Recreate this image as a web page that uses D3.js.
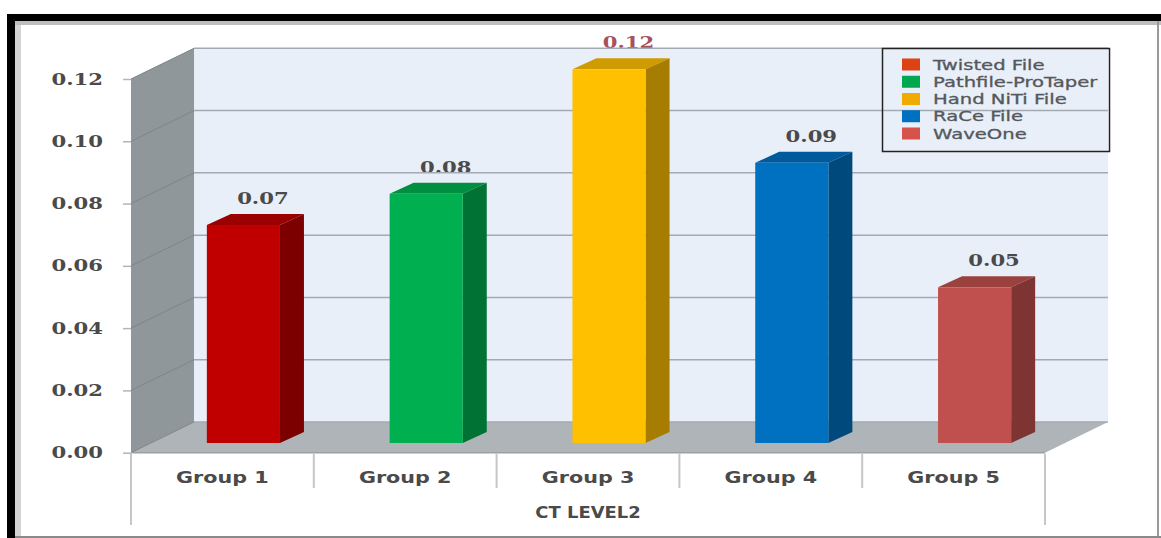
<!DOCTYPE html>
<html lang="en">
<head>
    <meta charset="UTF-8">
    <title>CT LEVEL2</title>
    <script src="https://d3js.org/d3.v7.min.js"></script>
    <style>
        html, body { margin: 0; padding: 0; background: #fff; overflow: hidden; }
        svg { display: block; }
    </style>
</head>
<body>
    <script>
        // values per group
        var categories = ['Group 1', 'Group 2', 'Group 3', 'Group 4', 'Group 5'];
        var values = [0.07, 0.08, 0.12, 0.09, 0.05];
        var yTicks = [0, 0.02, 0.04, 0.06, 0.08, 0.10, 0.12];
        var axisTitle = 'CT LEVEL2';

        // legend
        var seriesNames = ['Twisted File', 'Pathfile-ProTaper', 'Hand NiTi File', 'RaCe File', 'WaveOne'];
        var legendColors = ['#dc4212', '#00a650', '#f0ab00', '#0070c0', '#d8524c'];
        var barColors = ['#c00000', '#00b050', '#ffc000', '#0070c0', '#c0504d'];

        var w = 1161;
        var h = 538;

        // depth of the fake 3d box: back wall offset from the front plane
        var wallDx = 63;
        var wallDy = -30.7;
        // bars stand a bit inside the box
        var barShiftX = 21;
        var barShiftY = -9.7;
        var barDepthX = 24;
        var barDepthY = -11;

        var xScale = d3.scaleBand()
                       .domain(categories)
                       .range([131, 1045])
                       .paddingInner(0.6)
                       .paddingOuter(0.3);

        var yScale = d3.scaleLinear()
                       .domain([0, 0.12])
                       .range([452.7, 79]);

        var xLeft = xScale.range()[0];
        var xRight = xScale.range()[1];
        var yBase = yScale(0);
        var yTop = yScale(0.12);

        var svg = d3.select('body')
                    .append('svg')
                    .attr('width', w)
                    .attr('height', h);

        function poly(points) {
            return points.map(function(p) { return p.join(','); }).join(' ');
        }

        // text in this chart runs wide, so stretch it along the baseline
        function widen(selection, k) {
            selection.each(function() {
                d3.select(this)
                  .attr('textLength', this.getComputedTextLength() * k)
                  .attr('lengthAdjust', 'spacingAndGlyphs');
            });
        }

        // outer frame
        svg.append('rect').attr('x', 15).attr('y', 21).attr('width', 6).attr('height', h - 21).attr('fill', '#d4d4d4');
        svg.append('rect').attr('x', 15).attr('y', 21).attr('width', w - 15).attr('height', 4).attr('fill', '#bdbdbd');
        svg.append('rect').attr('x', 7).attr('y', 14).attr('width', 8).attr('height', h - 14).attr('fill', '#000');
        svg.append('rect').attr('x', 7).attr('y', 14).attr('width', w - 7).attr('height', 7).attr('fill', '#000');
        svg.append('rect').attr('x', 1157).attr('y', 21).attr('width', 2).attr('height', h - 21).attr('fill', '#9a9a9a');
        svg.append('rect').attr('x', 15).attr('y', 536).attr('width', w - 15).attr('height', 2).attr('fill', '#8a8a8a');

        // back wall
        svg.append('rect')
           .attr('x', xLeft + wallDx)
           .attr('y', yTop + wallDy)
           .attr('width', xRight - xLeft)
           .attr('height', yBase - yTop)
           .attr('fill', '#e9eff8');

        // side wall
        svg.append('polygon')
           .attr('points', poly([
               [xLeft, yTop],
               [xLeft + wallDx, yTop + wallDy],
               [xLeft + wallDx, yBase + wallDy],
               [xLeft, yBase]
           ]))
           .attr('fill', '#90979a');

        // floor
        svg.append('polygon')
           .attr('points', poly([
               [xLeft, yBase],
               [xLeft + wallDx, yBase + wallDy],
               [xRight + wallDx, yBase + wallDy],
               [xRight, yBase]
           ]))
           .attr('fill', '#aeb4b8');

        // value labels go under the gridlines
        svg.selectAll('.value-label')
           .data(values)
           .enter()
           .append('text')
           .attr('class', 'value-label')
           .attr('x', function(d, i) { return xScale(categories[i]) + xScale.bandwidth() / 2 + barShiftX + 19.5; })
           .attr('y', function(d) { return yScale(d) + barShiftY + barDepthY - 10; })
           .attr('text-anchor', 'middle')
           .attr('font-family', 'DejaVu Serif')
           .attr('font-weight', 'bold')
           .attr('font-size', 16)
           .attr('fill', function(d) { return d === 0.12 ? '#a8505c' : '#4a4a4a'; })
           .text(function(d) { return d.toFixed(2); })
           .call(widen, 1.32);

        // gridlines: across the back wall and down the side wall
        svg.selectAll('.grid-back')
           .data(yTicks)
           .enter()
           .append('line')
           .attr('class', 'grid-back')
           .attr('x1', xLeft + wallDx)
           .attr('x2', xRight + wallDx)
           .attr('y1', function(d) { return yScale(d) + wallDy; })
           .attr('y2', function(d) { return yScale(d) + wallDy; })
           .attr('stroke', '#a3aab2')
           .attr('stroke-width', 1.5);

        svg.selectAll('.grid-side')
           .data(yTicks)
           .enter()
           .append('line')
           .attr('class', 'grid-side')
           .attr('x1', xLeft)
           .attr('x2', xLeft + wallDx)
           .attr('y1', function(d) { return yScale(d); })
           .attr('y2', function(d) { return yScale(d) + wallDy; })
           .attr('stroke', '#7d8588')
           .attr('stroke-width', 1);

        // front edge of the floor
        svg.append('line')
           .attr('x1', xLeft).attr('x2', xRight)
           .attr('y1', yBase).attr('y2', yBase)
           .attr('stroke', '#9aa0a4')
           .attr('stroke-width', 1.5);

        // bars: top, side, then front face
        var bars = svg.selectAll('.bar')
                      .data(values)
                      .enter()
                      .append('g')
                      .attr('class', 'bar');

        function barLeft(i) { return xScale(categories[i]) + barShiftX; }
        function barRight(i) { return barLeft(i) + xScale.bandwidth(); }
        function barTop(d) { return yScale(d) + barShiftY; }
        var barBottom = yScale(0) + barShiftY;

        bars.append('polygon')
            .attr('points', function(d, i) {
                return poly([
                    [barLeft(i), barTop(d)],
                    [barLeft(i) + barDepthX, barTop(d) + barDepthY],
                    [barRight(i) + barDepthX, barTop(d) + barDepthY],
                    [barRight(i), barTop(d)]
                ]);
            })
            .attr('fill', function(d, i) { return d3.color(barColors[i]).darker(0.6); });

        bars.append('polygon')
            .attr('points', function(d, i) {
                return poly([
                    [barRight(i), barTop(d)],
                    [barRight(i) + barDepthX, barTop(d) + barDepthY],
                    [barRight(i) + barDepthX, barBottom + barDepthY],
                    [barRight(i), barBottom]
                ]);
            })
            .attr('fill', function(d, i) { return d3.color(barColors[i]).darker(1.2); });

        bars.append('rect')
            .attr('x', function(d, i) { return barLeft(i); })
            .attr('y', function(d) { return barTop(d); })
            .attr('width', xScale.bandwidth())
            .attr('height', function(d) { return barBottom - barTop(d); })
            .attr('fill', function(d, i) { return barColors[i]; });

        // y axis
        var yAxis = d3.axisLeft(yScale)
                      .tickValues(yTicks)
                      .tickFormat(d3.format('.2f'))
                      .tickSize(8)
                      .tickPadding(20);

        var yAxisG = svg.append('g')
                        .attr('transform', 'translate(' + xLeft + ',0)')
                        .call(yAxis);

        yAxisG.select('.domain').remove();
        yAxisG.selectAll('line').attr('stroke', '#b5b5b5').attr('stroke-width', 1.5);
        yAxisG.selectAll('text')
              .attr('font-family', 'DejaVu Serif')
              .attr('font-weight', 'bold')
              .attr('font-size', 16)
              .attr('fill', '#4a4a4a')
              .call(widen, 1.32);

        // x axis, with separators on the band edges
        var xAxis = d3.axisBottom(xScale)
                      .tickSize(0)
                      .tickPadding(20);

        var xAxisG = svg.append('g')
                        .attr('transform', 'translate(0,' + yBase + ')')
                        .call(xAxis);

        xAxisG.select('.domain').remove();
        xAxisG.selectAll('text')
              .attr('font-family', 'DejaVu Sans')
              .attr('font-weight', 'bold')
              .attr('font-size', 15)
              .attr('fill', '#4a4a4a')
              .call(widen, 1.38);

        var edges = d3.range(categories.length + 1);
        svg.selectAll('.separator')
           .data(edges)
           .enter()
           .append('line')
           .attr('class', 'separator')
           .attr('x1', function(d) { return xLeft + d * xScale.step(); })
           .attr('x2', function(d) { return xLeft + d * xScale.step(); })
           .attr('y1', yBase + 1)
           .attr('y2', function(d) { return d === 0 || d === categories.length ? 525 : 488; })
           .attr('stroke', '#c6c6c6')
           .attr('stroke-width', 2);

        svg.append('text')
           .attr('x', (xLeft + xRight) / 2)
           .attr('y', 518)
           .attr('text-anchor', 'middle')
           .attr('font-family', 'DejaVu Sans')
           .attr('font-weight', 'bold')
           .attr('font-size', 16)
           .attr('fill', '#4a4a4a')
           .text(axisTitle)
           .call(widen, 1.12);

        // legend
        var legendY = d3.scalePoint()
                        .domain(seriesNames)
                        .range([64.5, 133.5]);

        svg.append('rect')
           .attr('x', 882.5)
           .attr('y', 48.5)
           .attr('width', 227)
           .attr('height', 103)
           .attr('fill', 'none')
           .attr('stroke', '#222')
           .attr('stroke-width', 1.5);

        svg.selectAll('.legend-swatch')
           .data(seriesNames)
           .enter()
           .append('rect')
           .attr('class', 'legend-swatch')
           .attr('x', 902)
           .attr('y', function(d) { return legendY(d) - 6; })
           .attr('width', 18)
           .attr('height', 12)
           .attr('fill', function(d, i) { return legendColors[i]; });

        svg.selectAll('.legend-label')
           .data(seriesNames)
           .enter()
           .append('text')
           .attr('class', 'legend-label')
           .attr('x', 933)
           .attr('y', function(d) { return legendY(d) + 5; })
           .attr('font-family', 'DejaVu Sans')
           .attr('font-size', 14)
           .attr('fill', '#55585c')
           .attr('stroke', '#55585c')
           .attr('stroke-width', 0.3)
           .text(function(d) { return d; })
           .call(widen, 1.4);
    </script>
</body>
</html>
